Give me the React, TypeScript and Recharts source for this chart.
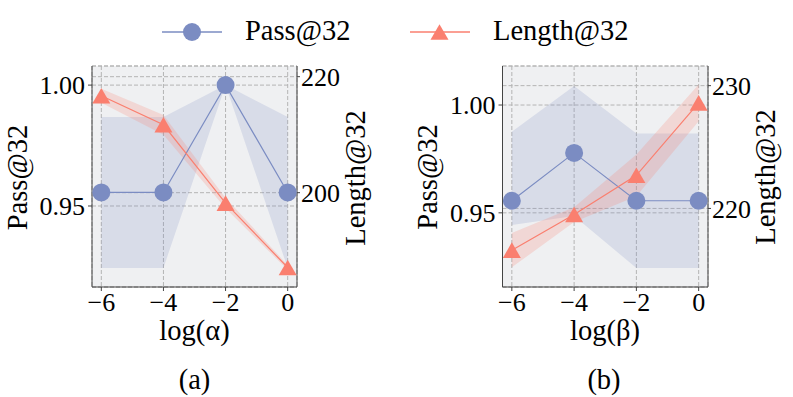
import React from "react";
import { ComposedChart, Line, Area, XAxis, YAxis, CartesianGrid } from "recharts";

// x positions are log10 of the weight
const xVals = [-6, -4, -2, 0];

// panel (a): alpha sweep
const passA = [0.9556, 0.9556, 1.0, 0.9556];
const passLoA = [0.9244, 0.9244, 1.0, 0.9244];
const passHiA = [0.9868, 0.9868, 1.0, 0.9868];
const lenA = [216.7, 211.7, 198.2, 187.1];
const lenErrA = [1.2, 1.7, 0.9, 0.4];

// panel (b): beta sweep
const passB = [0.9556, 0.9778, 0.9556, 0.9556];
const passLoB = [0.9443, 0.9485, 0.9244, 0.9244];
const passHiB = [0.9876, 1.0088, 0.9868, 0.9868];
const lenB = [216.6, 219.5, 222.7, 228.6];
const lenErrB = [1.4, 0.6, 1.7, 1.5];

const xTicks = [-6, -4, -2, 0];
const leftTicksA = [0.95, 1.0];
const rightTicksA = [200, 220];
const leftTicksB = [0.95, 1.0];
const rightTicksB = [220, 230];

const BLUE = "#7b8cc2";
const RED = "#fa7f6f";
const BG = "#eff0f2";
const SPINE = "#444";
const GRID = "#b4b4b4";
const FONT = "Liberation Serif, Times New Roman, DejaVu Serif, serif";

const buildRows = (pass: number[], lo: number[], hi: number[], len: number[], err: number[]) =>
  xVals.map((x, i) => ({
    x,
    pass: pass[i],
    passBand: [lo[i], hi[i]],
    len: len[i],
    lenBand: [len[i] - err[i], len[i] + err[i]],
  }));

const rowsA = buildRows(passA, passLoA, passHiA, lenA, lenErrA);
const rowsB = buildRows(passB, passLoB, passHiB, lenB, lenErrB);

const fmtX = (v: number) => (v < 0 ? "\u2212" + Math.abs(v) : String(v));

const Tri = ({ cx, cy, s = 9, fill }: { cx: number; cy: number; s?: number; fill: string }) => {
  const h = s * 0.866;
  return <polygon points={`${cx},${cy - h} ${cx - s},${cy + h} ${cx + s},${cy + h}`} fill={fill} />;
};

const tickStyle = { fill: "#000", fontSize: 26, style: { fontFamily: FONT } };

interface PanelProps {
  rows: ReturnType<typeof buildRows>;
  left: number;
  width: number;
  marginLeft: number;
  marginRight: number;
  leftDomain: [number, number];
  rightDomain: [number, number];
  leftTicks: number[];
  rightTicks: number[];
}

function Panel({ rows, left, width, marginLeft, marginRight, leftDomain, rightDomain, leftTicks, rightTicks }: PanelProps) {
  return (
    <div style={{ position: "absolute", left, top: 0, fontFamily: FONT }}>
      <ComposedChart
        width={width}
        height={397}
        data={rows}
        margin={{ top: 66, right: marginRight, bottom: 80, left: marginLeft }}
        style={{ fontFamily: FONT }}
      >
        <CartesianGrid xAxisId="b" yAxisId="L" fill={BG} stroke={GRID} strokeDasharray="4 2" />
        <CartesianGrid xAxisId="b" yAxisId="R" vertical={false} stroke={GRID} strokeDasharray="4 2" />
        <XAxis
          xAxisId="b"
          dataKey="x"
          type="number"
          domain={[-6.3, 0.3]}
          ticks={xTicks}
          allowDataOverflow
          tickFormatter={fmtX}
          height={30}
          tickSize={4}
          tickMargin={2}
          tick={tickStyle}
          axisLine={{ stroke: SPINE }}
          tickLine={{ stroke: SPINE }}
        />
        <XAxis
          xAxisId="t"
          orientation="top"
          type="number"
          domain={[-6.3, 0.3]}
          allowDataOverflow
          height={0}
          tick={false}
          tickLine={false}
          axisLine={{ stroke: SPINE }}
        />
        <YAxis
          yAxisId="L"
          type="number"
          domain={leftDomain}
          ticks={leftTicks}
          allowDataOverflow
          tickFormatter={(v: number) => v.toFixed(2)}
          width={60}
          tickSize={4}
          tickMargin={3}
          tick={tickStyle}
          axisLine={{ stroke: SPINE }}
          tickLine={{ stroke: SPINE }}
        />
        <YAxis
          yAxisId="R"
          orientation="right"
          type="number"
          domain={rightDomain}
          ticks={rightTicks}
          allowDataOverflow
          width={60}
          tickSize={3}
          tickMargin={1}
          tick={tickStyle}
          axisLine={{ stroke: SPINE }}
          tickLine={{ stroke: SPINE }}
        />
        <Area
          xAxisId="b"
          yAxisId="L"
          dataKey="passBand"
          type="linear"
          stroke="none"
          fill={BLUE}
          fillOpacity={0.2}
          dot={false}
          activeDot={false}
          isAnimationActive={false}
        />
        <Area
          xAxisId="b"
          yAxisId="R"
          dataKey="lenBand"
          type="linear"
          stroke="none"
          fill={RED}
          fillOpacity={0.22}
          dot={false}
          activeDot={false}
          isAnimationActive={false}
        />
        <Line
          xAxisId="b"
          yAxisId="L"
          dataKey="pass"
          type="linear"
          stroke={BLUE}
          strokeWidth={1.2}
          dot={{ r: 9, fill: BLUE, stroke: "none" }}
          activeDot={false}
          isAnimationActive={false}
        />
        <Line
          xAxisId="b"
          yAxisId="R"
          dataKey="len"
          type="linear"
          stroke={RED}
          strokeWidth={1.2}
          dot={(p: any) => <Tri key={"t" + p.index} cx={p.cx} cy={p.cy} fill={RED} />}
          activeDot={false}
          isAnimationActive={false}
        />
      </ComposedChart>
    </div>
  );
}

export default function App() {
  return (
    <div style={{ position: "absolute", left: 0, top: 0, width: 793, height: 397, background: "#fff", fontFamily: FONT }}>
      <Panel
        rows={rowsA}
        left={0}
        width={400}
        marginLeft={32}
        marginRight={43}
        leftDomain={[0.9165, 1.0079]}
        rightDomain={[183.74, 221.84]}
        leftTicks={leftTicksA}
        rightTicks={rightTicksA}
      />
      <Panel
        rows={rowsB}
        left={400}
        width={393}
        marginLeft={42.5}
        marginRight={25}
        leftDomain={[0.9156, 1.0181]}
        rightDomain={[213.6, 231.6]}
        leftTicks={leftTicksB}
        rightTicks={rightTicksB}
      />
      <svg
        width={793}
        height={397}
        style={{ position: "absolute", left: 0, top: 0, pointerEvents: "none", fontFamily: FONT, fontSize: 28.5 }}
      >
        {/* legend */}
        <line x1={162} y1={32} x2={222} y2={32} stroke={BLUE} strokeWidth={1.5} />
        <circle cx={192} cy={32} r={9} fill={BLUE} />
        <text x={245} y={40}>Pass@32</text>
        <line x1={410} y1={32} x2={470} y2={32} stroke={RED} strokeWidth={1.5} />
        <Tri cx={439.5} cy={32} fill={RED} />
        <text x={493} y={40}>Length@32</text>

        {/* panel (a) labels */}
        <text x={27} y={177.5} textAnchor="middle" transform="rotate(-90 27 177.5)">Pass@32</text>
        <text x={365} y={178} textAnchor="middle" transform="rotate(-90 365 178)">Length@32</text>
        <text x={194.5} y={340} textAnchor="middle">log(α)</text>
        <text x={194.5} y={389} textAnchor="middle">(a)</text>

        {/* panel (b) labels */}
        <text x={437} y={177} textAnchor="middle" transform="rotate(-90 437 177)">Pass@32</text>
        <text x={775} y={177} textAnchor="middle" transform="rotate(-90 775 177)">Length@32</text>
        <text x={605} y={340} textAnchor="middle">log(β)</text>
        <text x={604} y={389} textAnchor="middle">(b)</text>
      </svg>
    </div>
  );
}
